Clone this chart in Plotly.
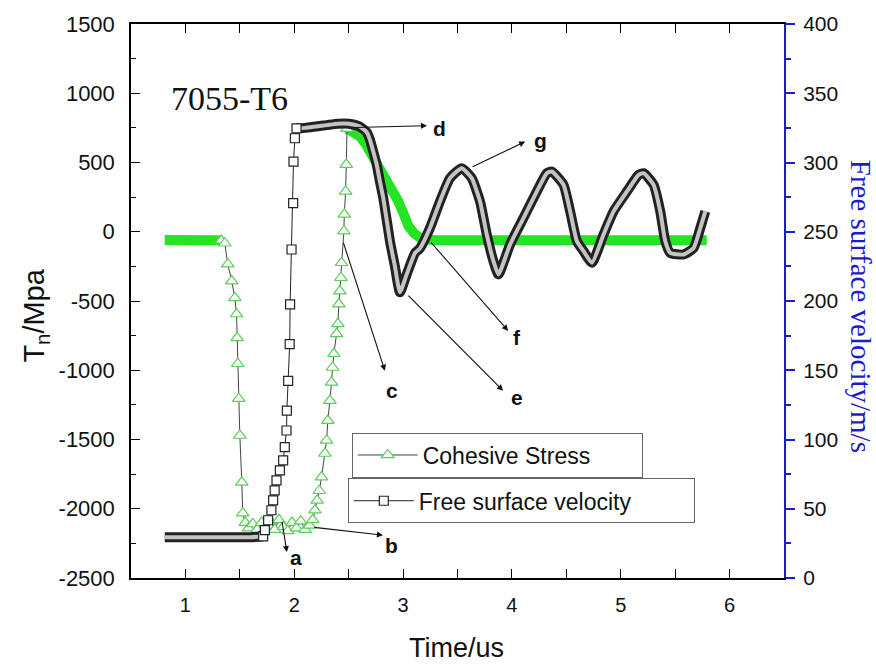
import plotly.graph_objects as go

# ---------------- data ----------------
stress_time = [0.81, 0.95, 1.10, 1.25, 1.33, 1.362, 1.389, 1.426, 1.454, 1.470, 1.476, 1.481,
               1.490, 1.500, 1.518, 1.527, 1.55, 1.58, 1.62, 1.66, 1.70, 1.74, 1.78, 1.82,
               1.86, 1.90, 1.94, 1.98, 2.02, 2.06, 2.10, 2.14, 2.17, 2.19, 2.21, 2.23,
               2.251, 2.282, 2.297, 2.309, 2.328, 2.343, 2.352, 2.364, 2.389, 2.401, 2.410,
               2.419, 2.429, 2.435, 2.456, 2.460, 2.472, 2.478, 2.485, 2.55, 2.60, 2.65,
               2.70, 2.75, 2.80, 2.85, 2.90, 2.95, 3.00, 3.05, 3.10, 3.15, 3.22, 3.30,
               4.00, 5.00, 5.79]
stress_mpa = [-60, -60, -60, -60, -62, -83, -234, -356, -478, -594, -766, -953,
              -1205, -1471, -1809, -2032, -2100, -2140, -2110, -2150, -2100, -2140, -2090, -2150,
              -2080, -2130, -2160, -2100, -2140, -2090, -2150, -2120, -2080, -2010, -1940, -1870,
              -1771, -1601, -1507, -1363, -1219, -1088, -980, -881, -737, -665, -522,
              -428, -332, -224, 4, 126, 291, 485, 745, 720, 690, 640,
              575, 505, 430, 360, 295, 230, 140, 40, -10, -40, -55, -62,
              -62, -62, -62]

velocity_time = [0.81, 1.00, 1.20, 1.40, 1.60, 1.714, 1.73, 1.76, 1.79, 1.806, 1.82, 1.837,
                 1.868, 1.898, 1.913, 1.929, 1.932, 1.944, 1.958, 1.962, 1.975, 1.990, 1.993,
                 2.006, 2.021, 2.10, 2.20, 2.30, 2.40, 2.50, 2.60, 2.665, 2.695, 2.726, 2.757,
                 2.787, 2.818, 2.88, 2.925, 2.971, 3.033, 3.110, 3.155, 3.247, 3.339, 3.431,
                 3.539, 3.631, 3.707, 3.769, 3.830, 3.876, 3.983, 4.106, 4.229, 4.321, 4.367,
                 4.474, 4.535, 4.597, 4.658, 4.735, 4.842, 4.934, 5.057, 5.164, 5.210, 5.302,
                 5.363, 5.409, 5.455, 5.578, 5.670, 5.731, 5.777]
velocity_ms = [29.5, 29.5, 29.5, 29.5, 29.5, 30, 34.5, 41.7, 48.9, 56.1, 63.3, 70.5,
               77.7, 84.9, 94.5, 106.5, 120.9, 142.4, 168.8, 197.6, 237.2, 270.7, 300.7,
               317.5, 324.7, 325, 326, 327, 328, 328, 326, 322, 316.5, 307.9, 298.6,
               286.3, 274.3, 243, 225, 206.3, 219.2, 234.7, 238, 252.7, 271.9, 288.7,
               295.9, 288.7, 271.9, 248, 228.8, 219.2, 240.8, 259.9, 279.1, 292.3, 293.5,
               283.9, 264.7, 243.2, 236, 227.6, 248, 264.7, 279.1, 291.1, 292.3, 283.9,
               264.7, 243.2, 234.7, 233.6, 238.3, 252.7, 264.7]

x_ticks = [1, 2, 3, 4, 5, 6]
y_left_ticks = [-2500, -2000, -1500, -1000, -500, 0, 500, 1000, 1500]
y_right_ticks = [0, 50, 100, 150, 200, 250, 300, 350, 400]

# dense (band-like) parts of each series vs. parts with individually visible markers
stress_dense_end, stress_dense_start = 1.33, 2.485
vel_dense_end, vel_dense_start = 1.714, 2.021

# annotation letters: (label, arrow tail t, tail y, arrow head t, head y, text t, text y)
letters = [
    ("a", 1.886, -2083, 1.932, -2313, 2.02, -2349),
    ("b", 2.171, -2133, 2.815, -2191, 2.895, -2263),
    ("c", 2.447, -68, 2.833, -1004, 2.898, -1147),
    ("d", 2.539, 752, 3.22, 766, 3.339, 745),
    ("g", 3.625, 464, 4.122, 651, 4.26, 658),
    ("f", 3.247, -68, 3.965, -716, 4.048, -766),
    ("e", 3.035, -450, 3.919, -1148, 4.048, -1198),
]


def split_band(t, v, end, start):
    bt, bv = [], []
    for ti, vi in zip(t, v):
        if ti <= end:
            bt.append(ti); bv.append(vi)
    bt.append(None); bv.append(None)
    for ti, vi in zip(t, v):
        if ti >= start:
            bt.append(ti); bv.append(vi)
    return bt, bv


def sparse(t, v, end, start):
    pairs = [(ti, vi) for ti, vi in zip(t, v) if end <= ti <= start]
    return [p[0] for p in pairs], [p[1] for p in pairs]


FONT = "Liberation Sans, Arial, sans-serif"
SERIF = "Liberation Serif, Times New Roman, serif"
GREEN_BAND = "#26e326"
GREEN_MARK = "#5ccc5c"
BLUE = "#1c1ccc"

fig = go.Figure()

# ---- cohesive stress (left axis) ----
sbt, sbv = split_band(stress_time, stress_mpa, stress_dense_end, stress_dense_start)
fig.add_trace(go.Scatter(x=sbt, y=sbv, mode="lines", yaxis="y",
                         line=dict(color=GREEN_BAND, width=10), showlegend=False,
                         hoverinfo="skip"))
sst, ssv = sparse(stress_time, stress_mpa, stress_dense_end, stress_dense_start)
fig.add_trace(go.Scatter(x=sst, y=ssv, mode="lines+markers", yaxis="y",
                         name="Cohesive Stress", legend="legend",
                         line=dict(color="#444444", width=1),
                         marker=dict(symbol="triangle-up", size=11, color="white",
                                     line=dict(color=GREEN_MARK, width=1.2))))

# ---- free surface velocity (right axis) ----
vbt, vbv = split_band(velocity_time, velocity_ms, vel_dense_end, vel_dense_start)
fig.add_trace(go.Scatter(x=vbt, y=vbv, mode="lines", yaxis="y2",
                         line=dict(color="#222222", width=10, shape="spline", smoothing=0.5),
                         showlegend=False, hoverinfo="skip"))
fig.add_trace(go.Scatter(x=vbt, y=vbv, mode="lines", yaxis="y2",
                         line=dict(color="#c4c4c4", width=4, shape="spline", smoothing=0.5),
                         showlegend=False, hoverinfo="skip"))
vst, vsv = sparse(velocity_time, velocity_ms, vel_dense_end, vel_dense_start)
fig.add_trace(go.Scatter(x=vst, y=vsv, mode="lines+markers", yaxis="y2",
                         name="Free surface velocity", legend="legend2",
                         line=dict(color="#222222", width=1),
                         marker=dict(symbol="square", size=9, color="white",
                                     line=dict(color="#222222", width=1.2))))

annotations = []
for lab, tx, ty, hx, hy, lx, ly in letters:
    annotations.append(dict(x=hx, y=hy, ax=tx, ay=ty, xref="x", yref="y", axref="x", ayref="y",
                            text="", showarrow=True, arrowhead=2, arrowsize=1.1,
                            arrowwidth=1.1, arrowcolor="#111111", standoff=0, startstandoff=0))
    annotations.append(dict(x=lx, y=ly, xref="x", yref="y", text="<b>%s</b>" % lab,
                            showarrow=False, font=dict(family=FONT, size=21, color="#111111")))

annotations += [
    dict(text="T<sub>n</sub>/Mpa", x=-0.146, y=0.473, xref="paper", yref="paper",
         xanchor="center", yanchor="middle",
         textangle=-90, showarrow=False, font=dict(family=FONT, size=29, color="#111111")),
    dict(text="Free surface velocity/m/s", x=1.119, y=0.49, xref="paper", yref="paper",
         xanchor="center", yanchor="middle",
         textangle=90, showarrow=False, font=dict(family=SERIF, size=29, color=BLUE)),
    dict(text="Time/us", x=0.499, y=-0.126, xref="paper", yref="paper",
         xanchor="center", yanchor="middle",
         showarrow=False, font=dict(family=FONT, size=27, color="#111111")),
    dict(text="7055-T6", x=0.058, y=0.866, xref="paper", yref="paper", xanchor="left",
         yanchor="middle",
         showarrow=False, font=dict(family=SERIF, size=34, color="#111111")),
]

legend_common = dict(bgcolor="white", bordercolor="#666666", borderwidth=1,
                     font=dict(family=FONT, size=23, color="#111111"),
                     xanchor="left", yanchor="top", itemwidth=60,
                     orientation="h", entrywidthmode="pixels")

fig.update_layout(
    width=876, height=668,
    margin=dict(l=131, r=92, t=22, b=90),
    paper_bgcolor="white", plot_bgcolor="white",
    xaxis=dict(range=[0.5, 6.5], tickvals=x_ticks, ticks="inside", ticklen=9, tickwidth=1.3,
               tickcolor="black", showline=True, linecolor="black", linewidth=1.5,
               mirror="allticks", showgrid=False, zeroline=False,
               minor=dict(dtick=0.5, tick0=0.5, ticks="inside", ticklen=5, tickcolor="black"),
               tickfont=dict(family=FONT, size=20, color="#111111"), ticklabelstandoff=8),
    yaxis=dict(range=[-2500, 1500], tickvals=y_left_ticks,
               ticktext=[str(v) for v in y_left_ticks], ticks="inside", ticklen=9,
               tickwidth=1.3, tickcolor="black", showline=True, linecolor="black",
               linewidth=1.5, showgrid=False, zeroline=False,
               minor=dict(dtick=250, tick0=0, ticks="inside", ticklen=5, tickcolor="black"),
               tickfont=dict(family=FONT, size=22, color="#111111"), ticklabelstandoff=10),
    yaxis2=dict(range=[0, 400], tickvals=y_right_ticks, overlaying="y", side="right",
                ticks="outside", ticklen=9, tickwidth=1.5, tickcolor=BLUE, showline=True,
                linecolor=BLUE, linewidth=2, showgrid=False, zeroline=False,
                minor=dict(dtick=25, tick0=0, ticks="outside", ticklen=5, tickcolor=BLUE),
                tickfont=dict(family=FONT, size=21, color="#111111"), ticklabelstandoff=4),
    legend=dict(x=0.338, y=0.2626, entrywidth=214, **legend_common),
    legend2=dict(x=0.332, y=0.180, entrywidth=270, **legend_common),
    annotations=annotations,
)

fig.write_html("out.html")
